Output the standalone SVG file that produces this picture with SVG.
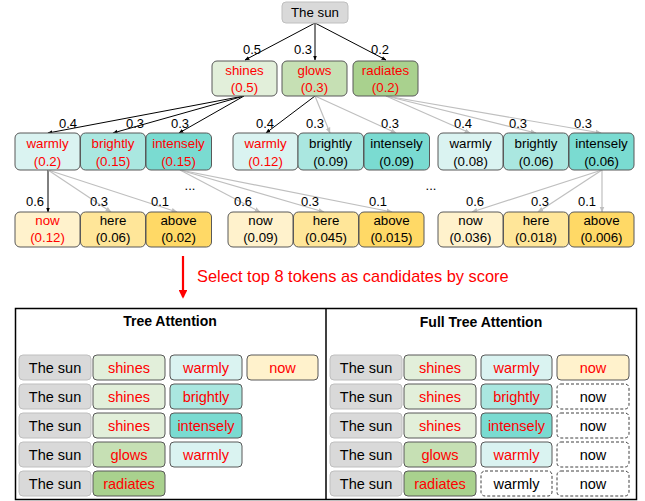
<svg xmlns="http://www.w3.org/2000/svg" width="645" height="501" viewBox="0 0 645 501">
<defs>
<style>
text{font-family:"Liberation Sans",Arial,sans-serif;text-anchor:middle;}
.n{font-size:13.3px;}
.r{fill:#ff0000;}
.k{fill:#000;}
.lbl{font-size:13px;fill:#000;}
.c{font-size:14.5px;}
.ttl{font-size:14px;font-weight:bold;}
.box{stroke:#595959;stroke-width:1;}
.root{fill:#d9d9d9;stroke:#bfbfbf;stroke-width:1;}
.g1{fill:#e2efda;}
.g2{fill:#c6e0b4;}
.g3{fill:#a9d18e;}
.c1{fill:#daf3f1;}
.c2{fill:#aae7e0;}
.c3{fill:#7adbd1;}
.y1{fill:#fff2cc;}
.y2{fill:#ffe699;}
.y3{fill:#ffd966;}
.dash{fill:#fff;stroke:#404040;stroke-width:1;stroke-dasharray:3 2;}
.eb{stroke:#000;stroke-width:1;fill:none;marker-end:url(#ab);}
.eg{stroke:#bfbfbf;stroke-width:1.2;fill:none;marker-end:url(#ag);}
</style>
<marker id="ab" viewBox="0 0 10 10" refX="9" refY="5" markerWidth="5" markerHeight="5" orient="auto"><path d="M0,1 L10,5 L0,9 z" fill="#000"/></marker>
<marker id="ag" viewBox="0 0 10 10" refX="9" refY="5" markerWidth="5" markerHeight="5" orient="auto"><path d="M0,1 L10,5 L0,9 z" fill="#bfbfbf"/></marker>
<marker id="ar" viewBox="0 0 10 10" refX="8" refY="5" markerWidth="4" markerHeight="4" orient="auto"><path d="M0,0 L10,5 L0,10 z" fill="#ff0000"/></marker>
</defs>

<g id="connectors">
<line class="eb" x1="315" y1="23" x2="245" y2="60"/>
<line class="eb" x1="315" y1="23" x2="315" y2="60"/>
<line class="eb" x1="315" y1="23" x2="386" y2="60"/>
<line class="eb" x1="244" y1="96" x2="48" y2="133"/>
<line class="eb" x1="244" y1="96" x2="113" y2="133"/>
<line class="eb" x1="244" y1="96" x2="179" y2="133"/>
<line class="eb" x1="315" y1="96" x2="266" y2="133"/>
<line class="eg" x1="315" y1="96" x2="330" y2="133"/>
<line class="eg" x1="315" y1="96" x2="396" y2="133"/>
<line class="eg" x1="386" y1="96" x2="470" y2="133"/>
<line class="eg" x1="386" y1="96" x2="536" y2="133"/>
<line class="eg" x1="386" y1="96" x2="601" y2="133"/>
<line class="eb" x1="48" y1="170" x2="48" y2="212"/>
<line class="eg" x1="48" y1="170" x2="111" y2="212"/>
<line class="eg" x1="48" y1="170" x2="177" y2="212"/>
<line class="eg" x1="180" y1="170" x2="260" y2="212"/>
<line class="eg" x1="180" y1="170" x2="324" y2="212"/>
<line class="eg" x1="180" y1="170" x2="392" y2="212"/>
<line class="eg" x1="602" y1="170" x2="472" y2="212"/>
<line class="eg" x1="602" y1="170" x2="538" y2="212"/>
<line class="eg" x1="602" y1="170" x2="602" y2="212"/>
<g class="lbl">
<text class="lbl" x="252" y="54">0.5</text>
<text class="lbl" x="303" y="54">0.3</text>
<text class="lbl" x="380" y="54">0.2</text>
<text class="lbl" x="68" y="128">0.4</text>
<text class="lbl" x="135" y="128">0.3</text>
<text class="lbl" x="180" y="128">0.3</text>
<text class="lbl" x="265" y="128">0.4</text>
<text class="lbl" x="315" y="128">0.3</text>
<text class="lbl" x="390" y="128">0.3</text>
<text class="lbl" x="463" y="128">0.4</text>
<text class="lbl" x="518" y="128">0.3</text>
<text class="lbl" x="583" y="128">0.3</text>
<text class="lbl" x="35" y="206">0.6</text>
<text class="lbl" x="99" y="206">0.3</text>
<text class="lbl" x="160" y="206">0.1</text>
<text class="lbl" x="243" y="206">0.6</text>
<text class="lbl" x="310" y="206">0.3</text>
<text class="lbl" x="378" y="206">0.1</text>
<text class="lbl" x="475" y="206">0.6</text>
<text class="lbl" x="540" y="206">0.3</text>
<text class="lbl" x="587" y="206">0.1</text>
<text class="lbl" x="190" y="190">...</text>
<text class="lbl" x="431" y="190">...</text>
</g>
</g>

<g id="root"><rect class="root" x="282" y="2" width="66" height="21" rx="4"/><text class="n k" x="315" y="17">The sun</text></g>

<g id="shines"><rect class="box g1" x="212" y="61" width="65" height="35" rx="5"/><text class="n r" x="244.5" y="75">shines</text><text class="n r" x="244.5" y="92">(0.5)</text></g>
<g id="glows"><rect class="box g2" x="282" y="61" width="65" height="35" rx="5"/><text class="n r" x="314.5" y="75">glows</text><text class="n r" x="314.5" y="92">(0.3)</text></g>
<g id="radiates"><rect class="box g3" x="353" y="61" width="65" height="35" rx="5"/><text class="n r" x="385.5" y="75">radiates</text><text class="n r" x="385.5" y="92">(0.2)</text></g>

<g id="s-warmly"><rect class="box c1" x="15" y="133" width="65" height="37" rx="5"/><text class="n r" x="47.5" y="148">warmly</text><text class="n r" x="47.5" y="166">(0.2)</text></g>
<g id="s-brightly"><rect class="box c2" x="80.5" y="133" width="65" height="37" rx="5"/><text class="n r" x="113" y="148">brightly</text><text class="n r" x="113" y="166">(0.15)</text></g>
<g id="s-intensely"><rect class="box c3" x="146" y="133" width="65.5" height="37" rx="5"/><text class="n r" x="178.5" y="148">intensely</text><text class="n r" x="178.5" y="166">(0.15)</text></g>

<g id="g-warmly"><rect class="box c1" x="233" y="133" width="65" height="37" rx="5"/><text class="n r" x="265.5" y="148">warmly</text><text class="n r" x="265.5" y="166">(0.12)</text></g>
<g id="g-brightly"><rect class="box c2" x="298" y="133" width="65.5" height="37" rx="5"/><text class="n k" x="330.5" y="148">brightly</text><text class="n k" x="330.5" y="166">(0.09)</text></g>
<g id="g-intensely"><rect class="box c3" x="364" y="133" width="65.5" height="37" rx="5"/><text class="n k" x="396.5" y="148">intensely</text><text class="n k" x="396.5" y="166">(0.09)</text></g>

<g id="r-warmly"><rect class="box c1" x="438" y="133" width="65" height="37" rx="5"/><text class="n k" x="470.5" y="148">warmly</text><text class="n k" x="470.5" y="166">(0.08)</text></g>
<g id="r-brightly"><rect class="box c2" x="503.5" y="133" width="65" height="37" rx="5"/><text class="n k" x="536" y="148">brightly</text><text class="n k" x="536" y="166">(0.06)</text></g>
<g id="r-intensely"><rect class="box c3" x="569" y="133" width="65" height="37" rx="5"/><text class="n k" x="601.5" y="148">intensely</text><text class="n k" x="601.5" y="166">(0.06)</text></g>

<g id="a-now"><rect class="box y1" x="15" y="212" width="65" height="35" rx="5"/><text class="n r" x="47.5" y="225">now</text><text class="n r" x="47.5" y="242">(0.12)</text></g>
<g id="a-here"><rect class="box y2" x="80.5" y="212" width="65" height="35" rx="5"/><text class="n k" x="113" y="225">here</text><text class="n k" x="113" y="242">(0.06)</text></g>
<g id="a-above"><rect class="box y3" x="146" y="212" width="65.5" height="35" rx="5"/><text class="n k" x="178.5" y="225">above</text><text class="n k" x="178.5" y="242">(0.02)</text></g>

<g id="b-now"><rect class="box y1" x="228" y="212" width="65" height="35" rx="5"/><text class="n k" x="260.5" y="225">now</text><text class="n k" x="260.5" y="242">(0.09)</text></g>
<g id="b-here"><rect class="box y2" x="293.5" y="212" width="65" height="35" rx="5"/><text class="n k" x="326" y="225">here</text><text class="n k" x="326" y="242">(0.045)</text></g>
<g id="b-above"><rect class="box y3" x="359" y="212" width="65" height="35" rx="5"/><text class="n k" x="391.5" y="225">above</text><text class="n k" x="391.5" y="242">(0.015)</text></g>

<g id="c-now"><rect class="box y1" x="438" y="212" width="65" height="35" rx="5"/><text class="n k" x="470.5" y="225">now</text><text class="n k" x="470.5" y="242">(0.036)</text></g>
<g id="c-here"><rect class="box y2" x="503.5" y="212" width="65" height="35" rx="5"/><text class="n k" x="536" y="225">here</text><text class="n k" x="536" y="242">(0.018)</text></g>
<g id="c-above"><rect class="box y3" x="569" y="212" width="65" height="35" rx="5"/><text class="n k" x="601.5" y="225">above</text><text class="n k" x="601.5" y="242">(0.006)</text></g>

<g id="select">
<line x1="183" y1="256" x2="183" y2="297" stroke="#ff0000" stroke-width="2.2" marker-end="url(#ar)"/>
<text x="197" y="282" style="text-anchor:start;font-size:16.4px;fill:#ff0000;">Select top 8 tokens as candidates by score</text>
</g>

<g id="panel">
<rect x="15.5" y="308.5" width="621" height="191" fill="#fff" stroke="#000" stroke-width="1.5"/>
<line x1="326" y1="308" x2="326" y2="500" stroke="#000" stroke-width="1.5"/>
<text class="ttl" x="170" y="326">Tree Attention</text>
<text class="ttl" x="481" y="327">Full Tree Attention</text>
</g>

<g id="tree-attention" class="c">
<g id="ta-r1">
<rect class="root" x="19" y="355" width="72" height="25" rx="4"/><text class="c k" x="55" y="372.5">The sun</text>
<rect class="box g1" x="93" y="355" width="72" height="25" rx="4"/><text class="c r" x="129" y="372.5">shines</text>
<rect class="box c1" x="170" y="355" width="72" height="25" rx="4"/><text class="c r" x="206" y="372.5">warmly</text>
<rect class="box y1" x="247" y="355" width="71" height="25" rx="4"/><text class="c r" x="282.5" y="372.5">now</text>
</g>
<g id="ta-r2">
<rect class="root" x="19" y="384" width="72" height="25" rx="4"/><text class="c k" x="55" y="401.5">The sun</text>
<rect class="box g1" x="93" y="384" width="72" height="25" rx="4"/><text class="c r" x="129" y="401.5">shines</text>
<rect class="box c2" x="170" y="384" width="72" height="25" rx="4"/><text class="c r" x="206" y="401.5">brightly</text>
</g>
<g id="ta-r3">
<rect class="root" x="19" y="413" width="72" height="25" rx="4"/><text class="c k" x="55" y="430.5">The sun</text>
<rect class="box g1" x="93" y="413" width="72" height="25" rx="4"/><text class="c r" x="129" y="430.5">shines</text>
<rect class="box c3" x="170" y="413" width="72" height="25" rx="4"/><text class="c r" x="206" y="430.5">intensely</text>
</g>
<g id="ta-r4">
<rect class="root" x="19" y="442" width="72" height="25" rx="4"/><text class="c k" x="55" y="459.5">The sun</text>
<rect class="box g2" x="93" y="442" width="72" height="25" rx="4"/><text class="c r" x="129" y="459.5">glows</text>
<rect class="box c1" x="170" y="442" width="72" height="25" rx="4"/><text class="c r" x="206" y="459.5">warmly</text>
</g>
<g id="ta-r5">
<rect class="root" x="19" y="471" width="72" height="25" rx="4"/><text class="c k" x="55" y="488.5">The sun</text>
<rect class="box g3" x="93" y="471" width="72" height="25" rx="4"/><text class="c r" x="129" y="488.5">radiates</text>
</g>
</g>

<g id="full-tree-attention" class="c">
<g id="fa-r1">
<rect class="root" x="330" y="355" width="72" height="25" rx="4"/><text class="c k" x="366" y="372.5">The sun</text>
<rect class="box g1" x="404" y="355" width="72" height="25" rx="4"/><text class="c r" x="440" y="372.5">shines</text>
<rect class="box c1" x="481" y="355" width="71" height="25" rx="4"/><text class="c r" x="516.5" y="372.5">warmly</text>
<rect class="box y1" x="557" y="355" width="72" height="25" rx="4"/><text class="c r" x="593" y="372.5">now</text>
</g>
<g id="fa-r2">
<rect class="root" x="330" y="384" width="72" height="25" rx="4"/><text class="c k" x="366" y="401.5">The sun</text>
<rect class="box g1" x="404" y="384" width="72" height="25" rx="4"/><text class="c r" x="440" y="401.5">shines</text>
<rect class="box c2" x="481" y="384" width="71" height="25" rx="4"/><text class="c r" x="516.5" y="401.5">brightly</text>
<rect class="dash" x="557" y="384" width="72" height="25" rx="4"/><text class="c k" x="593" y="401.5">now</text>
</g>
<g id="fa-r3">
<rect class="root" x="330" y="413" width="72" height="25" rx="4"/><text class="c k" x="366" y="430.5">The sun</text>
<rect class="box g1" x="404" y="413" width="72" height="25" rx="4"/><text class="c r" x="440" y="430.5">shines</text>
<rect class="box c3" x="481" y="413" width="71" height="25" rx="4"/><text class="c r" x="516.5" y="430.5">intensely</text>
<rect class="dash" x="557" y="413" width="72" height="25" rx="4"/><text class="c k" x="593" y="430.5">now</text>
</g>
<g id="fa-r4">
<rect class="root" x="330" y="442" width="72" height="25" rx="4"/><text class="c k" x="366" y="459.5">The sun</text>
<rect class="box g2" x="404" y="442" width="72" height="25" rx="4"/><text class="c r" x="440" y="459.5">glows</text>
<rect class="box c1" x="481" y="442" width="71" height="25" rx="4"/><text class="c r" x="516.5" y="459.5">warmly</text>
<rect class="dash" x="557" y="442" width="72" height="25" rx="4"/><text class="c k" x="593" y="459.5">now</text>
</g>
<g id="fa-r5">
<rect class="root" x="330" y="471" width="72" height="25" rx="4"/><text class="c k" x="366" y="488.5">The sun</text>
<rect class="box g3" x="404" y="471" width="72" height="25" rx="4"/><text class="c r" x="440" y="488.5">radiates</text>
<rect class="dash" x="481" y="471" width="71" height="25" rx="4"/><text class="c k" x="516.5" y="488.5">warmly</text>
<rect class="dash" x="557" y="471" width="72" height="25" rx="4"/><text class="c k" x="593" y="488.5">now</text>
</g>
</g>
</svg>
